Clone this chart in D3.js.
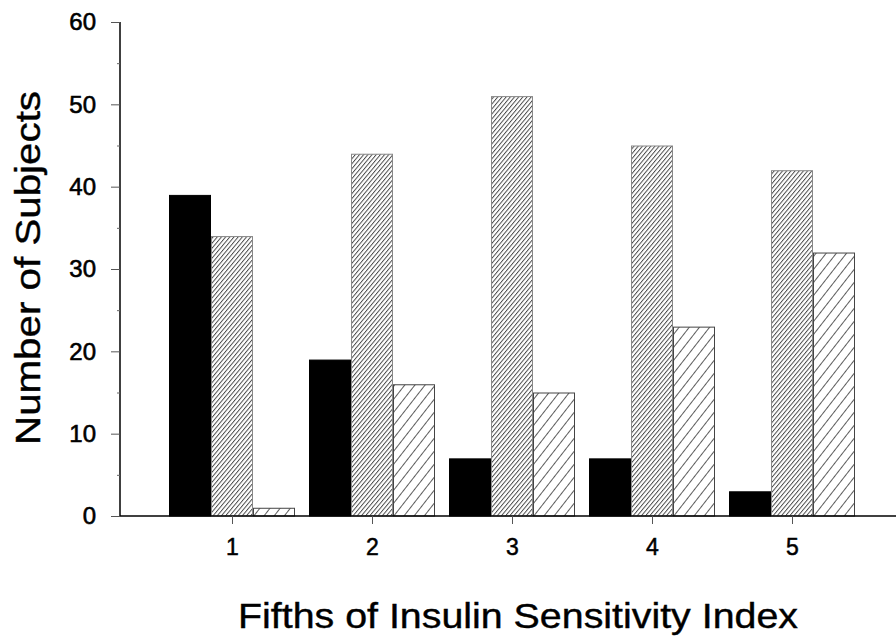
<!DOCTYPE html>
<html>
<head>
<meta charset="utf-8">
<script src="https://cdn.jsdelivr.net/npm/d3@7"></script>
<style>
  html, body { margin: 0; padding: 0; background: #fff; }
  svg { display: block; }
  text { font-family: Arial, "Liberation Sans", Helvetica, sans-serif; fill: #000; }
</style>
</head>
<body>
<svg id="chart" width="896" height="637"></svg>
<script>
// ---- data ----
const categories = ["1", "2", "3", "4", "5"];
const seriesNames = ["solid", "denseHatch", "sparseHatch"];
const solidValues = [39, 19, 7, 7, 3];
const denseHatchValues = [34, 44, 51, 45, 42];
const sparseHatchValues = [1, 16, 15, 23, 32];
const yTicks = [0, 10, 20, 30, 40, 50, 60];
const yMinorTicks = [5, 15, 25, 35, 45, 55];
const xTitle = "Fifths of Insulin Sensitivity Index";
const yTitle = "Number of Subjects";

const seriesValues = [solidValues, denseHatchValues, sparseHatchValues];

const svg = d3.select("#chart");

// patterns
const defs = svg.append("defs");
const dense = defs.append("pattern")
  .attr("id", "denseHatch").attr("patternUnits", "userSpaceOnUse")
  .attr("width", 3.2).attr("height", 3.2)
  .attr("patternTransform", "rotate(40)");
dense.append("rect").attr("width", 3.2).attr("height", 3.2).attr("fill", "#fff");
dense.append("line").attr("x1", 0.5).attr("y1", 0).attr("x2", 0.5).attr("y2", 3.2)
  .attr("stroke", "#3a3a3a").attr("stroke-width", 0.9);

const sparse = defs.append("pattern")
  .attr("id", "sparseHatch").attr("patternUnits", "userSpaceOnUse")
  .attr("width", 8).attr("height", 8)
  .attr("patternTransform", "rotate(38)");
sparse.append("rect").attr("width", 8).attr("height", 8).attr("fill", "#fff");
sparse.append("line").attr("x1", 0.5).attr("y1", 0).attr("x2", 0.5).attr("y2", 8)
  .attr("stroke", "#333").attr("stroke-width", 0.8);

const fills = { solid: "#000", denseHatch: "url(#denseHatch)", sparseHatch: "url(#sparseHatch)" };
const strokes = { solid: "#000", denseHatch: "#888", sparseHatch: "#444" };

// scales
const x0 = d3.scaleBand().domain(categories).range([162, 862])
  .paddingInner(0.1).paddingOuter(0.05);
const x1 = d3.scaleBand().domain(seriesNames).range([0, x0.bandwidth()]).padding(0);
const y = d3.scaleLinear().domain([0, 60]).range([516, 22]);

// bars
const groups = svg.append("g").selectAll("g")
  .data(categories)
  .join("g")
  .attr("transform", d => `translate(${x0(d)},0)`);

groups.selectAll("rect")
  .data((c, i) => seriesNames.map((s, j) => ({ s, v: seriesValues[j][i] })))
  .join("rect")
  .attr("x", d => x1(d.s) + 0.5)
  .attr("y", d => y(d.v) + 0.5)
  .attr("width", x1.bandwidth() - 1)
  .attr("height", d => y(0) - y(d.v) - 0.5)
  .attr("fill", d => fills[d.s])
  .attr("stroke", d => strokes[d.s])
  .attr("stroke-width", 1);

// y axis
const yAxis = svg.append("g").attr("transform", "translate(120,0)")
  .call(d3.axisLeft(y).tickValues(yTicks).tickSize(9).tickPadding(15).tickFormat(d3.format("d")));
yAxis.attr("font-size", 24);
yAxis.select(".domain").attr("stroke", "#000").attr("stroke-width", 1.5)
  .attr("d", `M0,${y(60)}V${y(0)}`);
yAxis.selectAll(".tick line").attr("stroke", "#555").attr("stroke-width", 1);
yAxis.selectAll(".tick text").attr("font-size", 24)
  .attr("font-family", "Arial, 'Liberation Sans', sans-serif")
  .attr("stroke", "#000").attr("stroke-width", 0.6);

const yMinor = svg.append("g").attr("transform", "translate(120,0)")
  .call(d3.axisLeft(y).tickValues(yMinorTicks).tickSize(3).tickFormat(""));
yMinor.select(".domain").remove();
yMinor.selectAll(".tick line").attr("stroke", "#666").attr("stroke-width", 1);

// x axis
const xCenters = d3.scalePoint().domain(categories)
  .range([x0(categories[0]) + x0.bandwidth() / 2, x0(categories[4]) + x0.bandwidth() / 2]);
const xAxis = svg.append("g").attr("transform", `translate(0,${y(0)})`)
  .call(d3.axisBottom(xCenters).tickSize(8).tickPadding(15));
xAxis.attr("font-size", 23);
xAxis.select(".domain").attr("stroke", "#000").attr("stroke-width", 1.5)
  .attr("d", "M120,0H896");
xAxis.selectAll(".tick line").attr("stroke", "#555").attr("stroke-width", 1);
xAxis.selectAll(".tick text").attr("font-size", 23)
  .attr("font-family", "Arial, 'Liberation Sans', sans-serif")
  .attr("stroke", "#000").attr("stroke-width", 0.5);

// titles
svg.append("text")
  .attr("x", 518).attr("y", 628)
  .attr("text-anchor", "middle")
  .attr("font-size", 35)
  .attr("stroke", "#000").attr("stroke-width", 0.4)
  .attr("textLength", 560).attr("lengthAdjust", "spacingAndGlyphs")
  .text(xTitle);

svg.append("text")
  .attr("transform", "translate(40,268) rotate(-90)")
  .attr("text-anchor", "middle")
  .attr("font-size", 35)
  .attr("stroke", "#000").attr("stroke-width", 0.4)
  .attr("textLength", 354).attr("lengthAdjust", "spacingAndGlyphs")
  .text(yTitle);
</script>
</body>
</html>
